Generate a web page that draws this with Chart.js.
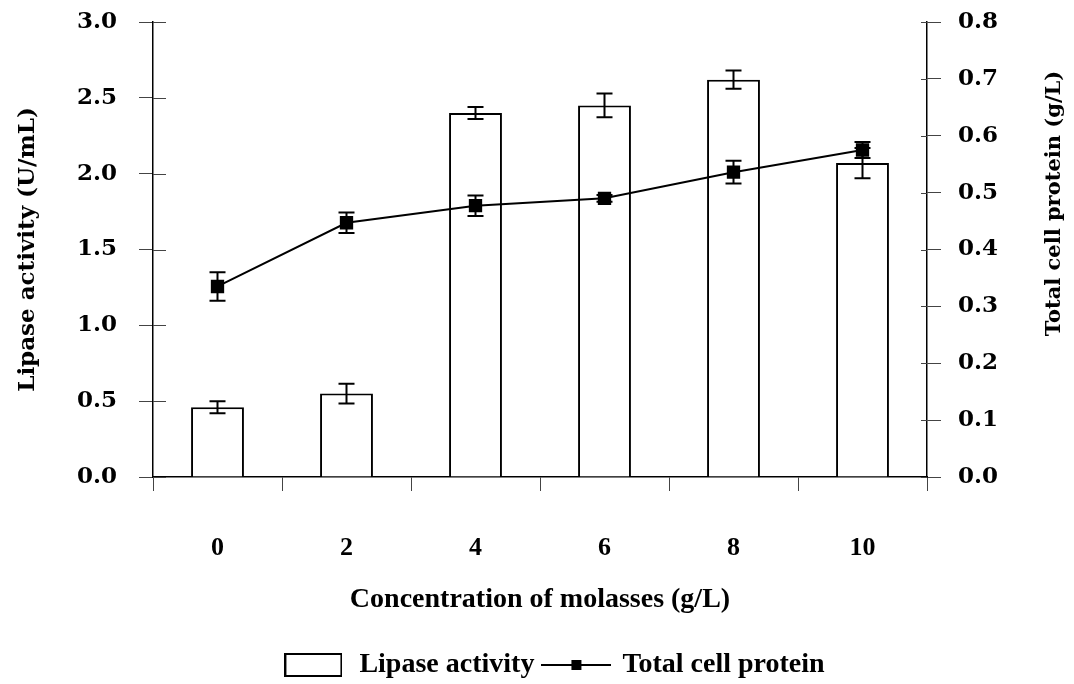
<!DOCTYPE html>
<html lang="en">
<head>
<meta charset="utf-8">
<title>Lipase activity and total cell protein vs molasses</title>
<script src="https://cdn.jsdelivr.net/npm/chart.js@4"></script>
<style>
  html, body { margin: 0; padding: 0; background: white; }
  #wrap { width: 1074px; height: 684px; }
</style>
</head>
<body>
<div id="wrap"><canvas id="chart"></canvas></div>
<script>
// values
const concentrations = ['0', '2', '4', '6', '8', '10'];
const lipaseActivity = [0.46, 0.55, 2.40, 2.45, 2.62, 2.07];
const lipaseError = [0.04, 0.065, 0.04, 0.078, 0.06, 0.10];
const cellProtein = [0.335, 0.447, 0.477, 0.49, 0.536, 0.575];
const proteinError = [0.025, 0.018, 0.018, 0.006, 0.02, 0.014];

const serifBold = size => ({ family: 'DejaVu Serif', weight: 'bold', size: size });
const timesBold = size => ({ family: 'Liberation Serif', weight: 'bold', size: size });

// small canvases used as legend symbols
function makeIcon(w, h, draw) {
    const c = document.createElement('canvas');
    c.width = w; c.height = h;
    draw(c.getContext('2d'));
    return c;
}
const barIcon = makeIcon(58, 24, g => {
    g.fillStyle = '#fff'; g.strokeStyle = '#000'; g.lineWidth = 2;
    g.fillRect(1, 1, 56, 22); g.strokeRect(1, 1, 56, 22);
});
const lineIcon = makeIcon(70, 14, g => {
    g.strokeStyle = '#000'; g.lineWidth = 2;
    g.beginPath(); g.moveTo(0, 7); g.lineTo(70, 7); g.stroke();
    g.fillStyle = '#000'; g.fillRect(30, 2, 10, 10);
});

// error bars, drawn right after their own dataset
const errorBars = {
    id: 'errorBars',
    afterDatasetDraw(chart, args) {
        const ds = chart.data.datasets[args.index];
        if (!ds.errors) return;
        const scale = chart.scales[args.meta.yAxisID];
        const ctx = chart.ctx;
        ctx.save();
        ctx.strokeStyle = '#000';
        ctx.lineWidth = 2;
        args.meta.data.forEach((el, i) => {
            const top = scale.getPixelForValue(ds.data[i] + ds.errors[i]);
            const bot = scale.getPixelForValue(ds.data[i] - ds.errors[i]);
            ctx.beginPath();
            ctx.moveTo(el.x, top); ctx.lineTo(el.x, bot);
            ctx.moveTo(el.x - 8, top); ctx.lineTo(el.x + 8, top);
            ctx.moveTo(el.x - 8, bot); ctx.lineTo(el.x + 8, bot);
            ctx.stroke();
        });
        ctx.restore();
    }
};

// tick marks crossing into the plot + right axis title reading upwards
const axisExtras = {
    id: 'axisExtras',
    afterDraw(chart) {
        const { ctx, scales: { y, y1 }, chartArea } = chart;
        ctx.save();
        ctx.strokeStyle = '#444';
        ctx.lineWidth = 1;
        ctx.beginPath();
        y.ticks.forEach(t => {
            const py = Math.round(y.getPixelForValue(t.value)) + 0.5;
            ctx.moveTo(y.right, py); ctx.lineTo(y.right + 13, py);
        });
        y1.ticks.forEach(t => {
            const py = Math.round(y1.getPixelForValue(t.value)) + 0.5;
            ctx.moveTo(y1.left, py); ctx.lineTo(y1.left - 6, py);
        });
        ctx.stroke();

        ctx.translate(1055, (chartArea.top + chartArea.bottom) / 2 - 46);
        ctx.rotate(-Math.PI / 2);
        ctx.font = 'bold 21px "DejaVu Serif"';
        ctx.fillStyle = '#000';
        ctx.textAlign = 'center';
        ctx.textBaseline = 'middle';
        ctx.fillText('Total cell protein (g/L)', 0, 0);
        ctx.restore();
    }
};

// keep first/last tick labels from pushing the plot area down
function noLabelPadding(s) {
    s.paddingTop = 0;
    s.paddingBottom = 0;
}

new Chart(document.getElementById('chart'), {
    type: 'bar',
    data: {
        labels: concentrations,
        datasets: [
            {
                type: 'line',
                label: 'Total cell protein',
                data: cellProtein,
                errors: proteinError,
                yAxisID: 'y1',
                borderColor: '#000',
                borderWidth: 2,
                pointStyle: 'rect',
                pointRadius: 8,
                pointBackgroundColor: '#000',
                pointBorderColor: '#000',
                tension: 0,
                order: 0
            },
            {
                label: 'Lipase activity',
                data: lipaseActivity,
                errors: lipaseError,
                yAxisID: 'y',
                backgroundColor: '#fff',
                borderColor: '#000',
                borderWidth: 2,
                barPercentage: 0.41,
                categoryPercentage: 1,
                order: 1
            }
        ]
    },
    options: {
        responsive: true,
        maintainAspectRatio: false,
        animation: false,
        layout: { padding: { top: 22, left: 32, right: 0, bottom: -5 } },
        plugins: {
            tooltip: { enabled: false },
            legend: {
                position: 'bottom',
                labels: {
                    usePointStyle: true,
                    pointStyleWidth: 64,
                    boxHeight: 28,
                    padding: 10,
                    color: '#000',
                    font: timesBold(28),
                    generateLabels: () => [
                        { text: 'Lipase activity', pointStyle: barIcon, fillStyle: '#fff', strokeStyle: '#000', lineWidth: 0, datasetIndex: 1, hidden: false },
                        { text: 'Total cell protein', pointStyle: lineIcon, fillStyle: '#000', strokeStyle: '#000', lineWidth: 0, datasetIndex: 0, hidden: false }
                    ]
                }
            }
        },
        scales: {
            x: {
                offset: true,
                grid: { display: true, drawOnChartArea: false, offset: true, tickLength: 14, color: '#444' },
                border: { display: true, color: '#000', width: 1.5 },
                ticks: { padding: 42, color: '#000', font: timesBold(26) },
                title: {
                    display: true,
                    text: 'Concentration of molasses (g/L)',
                    color: '#000',
                    font: timesBold(28),
                    padding: { top: 0, bottom: 24 }
                },
                afterFit: s => { s.height = 164; }
            },
            y: {
                position: 'left',
                min: 0,
                max: 3,
                ticks: { stepSize: 0.5, padding: 22, color: '#000', font: serifBold(23), callback: v => v.toFixed(1) },
                grid: { drawOnChartArea: false, tickLength: 14, color: '#444' },
                border: { color: '#000', width: 1.5 },
                title: {
                    display: true,
                    text: 'Lipase activity (U/mL)',
                    color: '#000',
                    font: serifBold(23),
                    padding: { top: -18, bottom: 0 }
                },
                afterFit: s => { s.width = 121; noLabelPadding(s); }
            },
            y1: {
                position: 'right',
                min: 0,
                max: 0.8,
                ticks: { stepSize: 0.1, padding: 17, color: '#000', font: serifBold(23), callback: v => v.toFixed(1) },
                grid: { drawOnChartArea: false, tickLength: 14, color: '#444' },
                border: { color: '#000', width: 1.5 },
                afterFit: s => { s.width = 147; noLabelPadding(s); }
            }
        }
    },
    plugins: [errorBars, axisExtras]
});
</script>
</body>
</html>
